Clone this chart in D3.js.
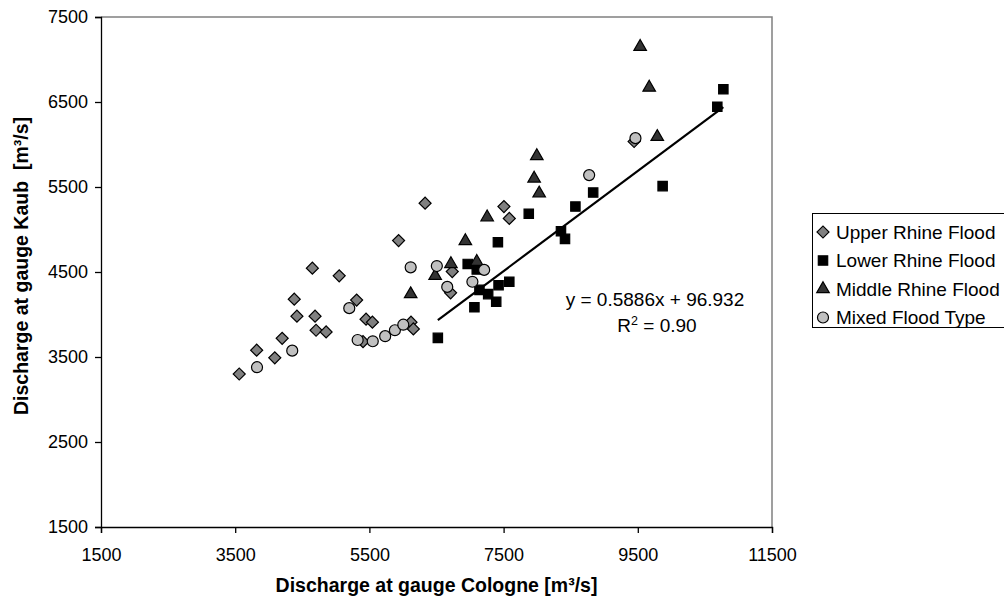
<!DOCTYPE html>
<html lang="en">
<head>
  <meta charset="UTF-8">
  <title>Cologne vs Kaub discharge</title>
  <script src="https://d3js.org/d3.v7.min.js"></script>
  <style>
    body { margin: 0; background: #fff; }
    svg { display: block; font-family: Arial, "Liberation Sans", sans-serif; }
  </style>
</head>
<body>
<svg></svg>
<script>
  // [Cologne, Kaub] discharge pairs, m³/s
  const upperRhine = [
    [3560, 3300], [3820, 3580], [4090, 3490], [4200, 3720], [4380, 4180],
    [4420, 3980], [4650, 4545], [4690, 3980], [4705, 3815], [4855, 3795],
    [5050, 4455], [5310, 4170], [5405, 3680], [5450, 3945], [5545, 3910],
    [5935, 4870], [6120, 3910], [6155, 3830], [6330, 5310], [6710, 4255],
    [6735, 4505], [7505, 5270], [7585, 5130], [9445, 6035]
  ]
  const lowerRhine = [
    [6520, 3725], [6965, 4595], [7065, 4085], [7100, 4530], [7140, 4290],
    [7270, 4240], [7390, 4150], [7415, 4850], [7425, 4345], [7585, 4385],
    [7875, 5185], [8355, 4980], [8415, 4890], [8570, 5270], [8835, 5435],
    [9870, 5510], [10685, 6445], [10775, 6650]
  ]
  const middleRhine = [
    [6115, 4240], [6480, 4455], [6715, 4595], [6930, 4865], [7100, 4620],
    [7255, 5145], [7955, 5600], [7995, 5865], [8030, 5425], [9535, 7150],
    [9670, 6670], [9790, 6090]
  ]
  const mixedType = [
    [3825, 3380], [4350, 3575], [5200, 4075], [5325, 3700], [5550, 3685],
    [5735, 3745], [5880, 3815], [6005, 3880], [6115, 4555], [6505, 4570],
    [6660, 4325], [7035, 4385], [7210, 4525], [8775, 5640], [9465, 6075]
  ]
  const xTicks = [1500, 3500, 5500, 7500, 9500, 11500]
  const yTicks = [1500, 2500, 3500, 4500, 5500, 6500, 7500]
  const trendSlope = 0.5886, trendIntercept = 96.932

  const width = 1004, height = 603
  const margin = {top: 17, right: 232, bottom: 76, left: 101}

  const x = d3.scaleLinear()
      .domain([1500, 11500])
      .range([margin.left, width - margin.right])

  const y = d3.scaleLinear()
      .domain([1500, 7500])
      .range([height - margin.bottom, margin.top])

  const svg = d3.select('svg')
      .attr('width', width)
      .attr('height', height)
      .attr('viewBox', [0, 0, width, height])

  // plot area frame (top + right)
  svg.append('path')
      .attr('d', `M${x(1500)},${y(7500)}H${x(11500)}V${y(1500)}`)
      .attr('fill', 'none')
      .attr('stroke', '#808080')
      .attr('stroke-width', 1.5)

  svg.append('g')
      .attr('transform', `translate(0,${y(1500)})`)
      .call(d3.axisBottom(x).tickValues(xTicks).tickSizeOuter(0).tickSize(6).tickPadding(15).tickFormat(d3.format('d')))
      .call(g => g.selectAll('text').attr('font-size', 18).attr('fill', '#000'))
      .call(g => g.selectAll('line, path').attr('stroke', '#000').attr('stroke-width', 1.3))
      .attr('font-family', null)

  svg.append('g')
      .attr('transform', `translate(${x(1500)},0)`)
      .call(d3.axisLeft(y).tickValues(yTicks).tickSizeOuter(0).tickSize(6).tickPadding(7).tickFormat(d3.format('d')))
      .call(g => g.selectAll('text').attr('font-size', 18).attr('fill', '#000'))
      .call(g => g.selectAll('line, path').attr('stroke', '#000').attr('stroke-width', 1.3))
      .attr('font-family', null)

  // axis titles
  svg.append('text')
      .attr('x', (x(1500) + x(11500)) / 2)
      .attr('y', 592)
      .attr('text-anchor', 'middle')
      .attr('font-weight', 'bold')
      .attr('font-size', 19.5)
      .text('Discharge at gauge Cologne [m³/s]')

  svg.append('text')
      .attr('transform', `translate(28,${(y(1500) + y(7500)) / 2 - 6}) rotate(-90)`)
      .attr('text-anchor', 'middle')
      .attr('font-weight', 'bold')
      .attr('font-size', 19.5)
      .style('white-space', 'pre')
      .text('Discharge at gauge Kaub  [m³/s]')

  const series = [
    {name: 'Upper Rhine Flood', data: upperRhine, symbol: d3.symbolSquare, size: 72, rotate: 45, fill: '#808080'},
    {name: 'Lower Rhine Flood', data: lowerRhine, symbol: d3.symbolSquare, size: 88, rotate: 0, fill: '#000'},
    {name: 'Middle Rhine Flood', data: middleRhine, symbol: d3.symbolTriangle, size: 68, rotate: 0, fill: '#333'},
    {name: 'Mixed Flood Type', data: mixedType, symbol: d3.symbolCircle, size: 95, rotate: 0, fill: '#c0c0c0'}
  ]

  series.forEach(s => {
    svg.append('g')
      .selectAll('path')
      .data(s.data)
      .join('path')
        .attr('transform', d => `translate(${x(d[0])},${y(d[1])}) rotate(${s.rotate})`)
        .attr('d', d3.symbol(s.symbol, s.size))
        .attr('fill', s.fill)
        .attr('stroke', '#000')
        .attr('stroke-width', 1.2)
  })

  // linear trend of Lower Rhine floods
  const xExt = d3.extent(lowerRhine, d => d[0])
  svg.append('path')
      .datum(xExt.map(v => [v, trendSlope * v + trendIntercept]))
      .attr('d', d3.line().x(d => x(d[0])).y(d => y(d[1])))
      .attr('stroke', '#000')
      .attr('stroke-width', 2.2)
      .attr('fill', 'none')

  const eq = svg.append('g')
      .attr('font-size', 19)
      .attr('text-anchor', 'middle')
  eq.append('text')
      .attr('x', 655).attr('y', 306)
      .text(`y = ${trendSlope}x + ${trendIntercept}`)
  const r2 = eq.append('text').attr('x', 657).attr('y', 332)
  r2.append('tspan').text('R')
  r2.append('tspan').attr('font-size', 12.5).attr('dy', -7).text('2')
  r2.append('tspan').attr('dy', 7).text(' = 0.90')

  // legend
  const legend = svg.append('g')
  legend.append('rect')
      .attr('x', 812.5).attr('y', 213.5)
      .attr('width', 220).attr('height', 114)
      .attr('fill', '#fff')
      .attr('stroke', '#000')
      .attr('stroke-width', 1)
  series.forEach((s, i) => {
    const cy = 232 + i * 28.5
    legend.append('path')
        .attr('transform', `translate(823,${cy}) rotate(${s.rotate})`)
        .attr('d', d3.symbol(s.symbol, s.size))
        .attr('fill', s.fill)
        .attr('stroke', '#000')
        .attr('stroke-width', 1.2)
    legend.append('text')
        .attr('x', 836).attr('y', cy)
        .attr('dy', '0.35em')
        .attr('font-size', 19)
        .text(s.name)
  })
</script>
</body>
</html>
